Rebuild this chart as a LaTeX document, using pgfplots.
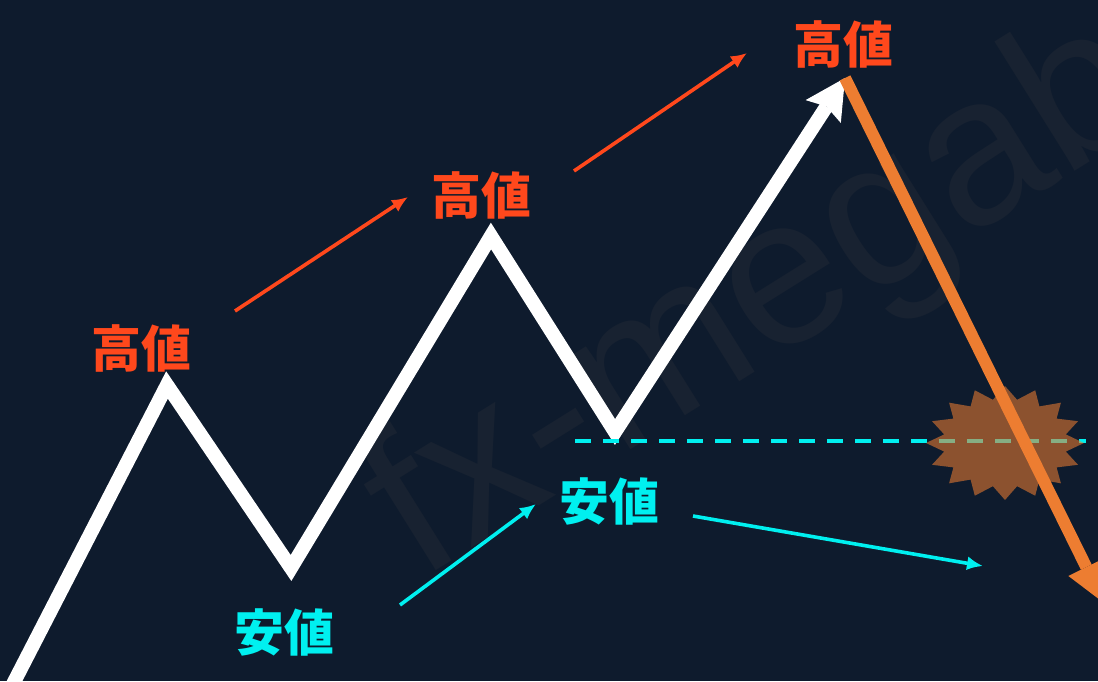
\documentclass[border=0pt]{standalone}
\usepackage{pgfplots}
\pgfplotsset{compat=1.18}
\usepackage{fontspec}
\usetikzlibrary{arrows.meta}
\newfontfamily\cjk{Noto Sans CJK JP}
\newfontfamily\wmfont{Liberation Sans}

\definecolor{bg}{RGB}{14,27,45}
\definecolor{wm}{RGB}{24,34,49}
\definecolor{hi}{RGB}{255,72,28}
\definecolor{lo}{RGB}{0,240,240}
\definecolor{drop}{RGB}{237,125,49}

% 1 unit = 1 px of the reference, y measured upwards
\begin{document}
\begin{tikzpicture}
\fill[bg] (0,0) rectangle (549pt,340.5pt);
\begin{scope}
\clip (0,0) rectangle (549pt,340.5pt);
\begin{axis}[
    scale only axis,
    width=549pt, height=340.5pt,
    xmin=0, xmax=1098, ymin=0, ymax=681,
    hide axis, clip=true,
]
% watermark
\node[rotate=32, anchor=base west, text=wm, inner sep=0pt,
      font=\wmfont\fontsize{105}{105}\selectfont] at (axis cs:420,100) {fx-megabank};

% price zigzag
\addplot[white, line width=7pt, line join=miter,
    -{Stealth[length=20pt, width=21pt, inset=3pt, line width=0pt]}]
    coordinates {(13,-3) (167,296) (291,113) (491,445) (615,249) (845,603)};

% arrows between highs / lows
\addplot[hi, line width=1.8pt, -{Latex[length=8pt, width=7pt]}]
    coordinates {(235,370) (408,484)};
\addplot[hi, line width=1.8pt, -{Latex[length=8pt, width=7pt]}]
    coordinates {(574,510) (747,628)};
\addplot[lo, line width=1.8pt, -{Latex[length=8pt, width=7pt]}]
    coordinates {(400,76) (536,177)};
\addplot[lo, line width=1.8pt, -{Latex[length=8pt, width=7pt]}]
    coordinates {(693,165) (983,115)};

% support line
\addplot[lo, line width=2pt, dash pattern=on 8pt off 6pt]
    coordinates {(575,240) (1086,240)};

% breakout burst
\addplot[fill=drop, fill opacity=0.57, draw=none] coordinates {
    (1084,238) (1065.8,246.6) (1078.0,259.8) (1056.6,262.4) (1060.9,278.3)
    (1039.4,274.6) (1035.2,290.7) (1017.1,281.2) (1005,295) (992.9,281.2)
    (974.8,290.7) (970.6,274.6) (949.1,278.3) (953.4,262.4) (932.0,259.8)
    (944.2,246.6) (926,238) (944.2,229.4) (932.0,216.2) (953.4,213.6)
    (949.1,197.7) (970.6,201.4) (974.8,185.3) (992.9,194.8) (1005,181)
    (1017.1,194.8) (1035.2,185.3) (1039.4,201.4) (1060.9,197.7) (1056.6,213.6)
    (1078.0,216.2) (1065.8,229.4)} -- cycle;

% drop after the last high
\addplot[drop, line width=6pt,
    -{Triangle[length=20pt, width=20pt, line width=0pt]}]
    coordinates {(845,603) (1104,78)};

% labels
\node[text=hi, font=\cjk\bfseries\fontsize{25}{25}\selectfont] at (axis cs:141,333) {高値};
\node[text=hi, font=\cjk\bfseries\fontsize{25}{25}\selectfont] at (axis cs:481,486) {高値};
\node[text=hi, font=\cjk\bfseries\fontsize{25}{25}\selectfont] at (axis cs:843,637) {高値};
\node[text=lo, font=\cjk\bfseries\fontsize{25}{25}\selectfont] at (axis cs:284,49) {安値};
\node[text=lo, font=\cjk\bfseries\fontsize{25}{25}\selectfont] at (axis cs:609,180) {安値};
\end{axis}
\end{scope}
\pgfresetboundingbox
\path (0,0) rectangle (549pt,340.5pt);
\end{tikzpicture}
\end{document}
